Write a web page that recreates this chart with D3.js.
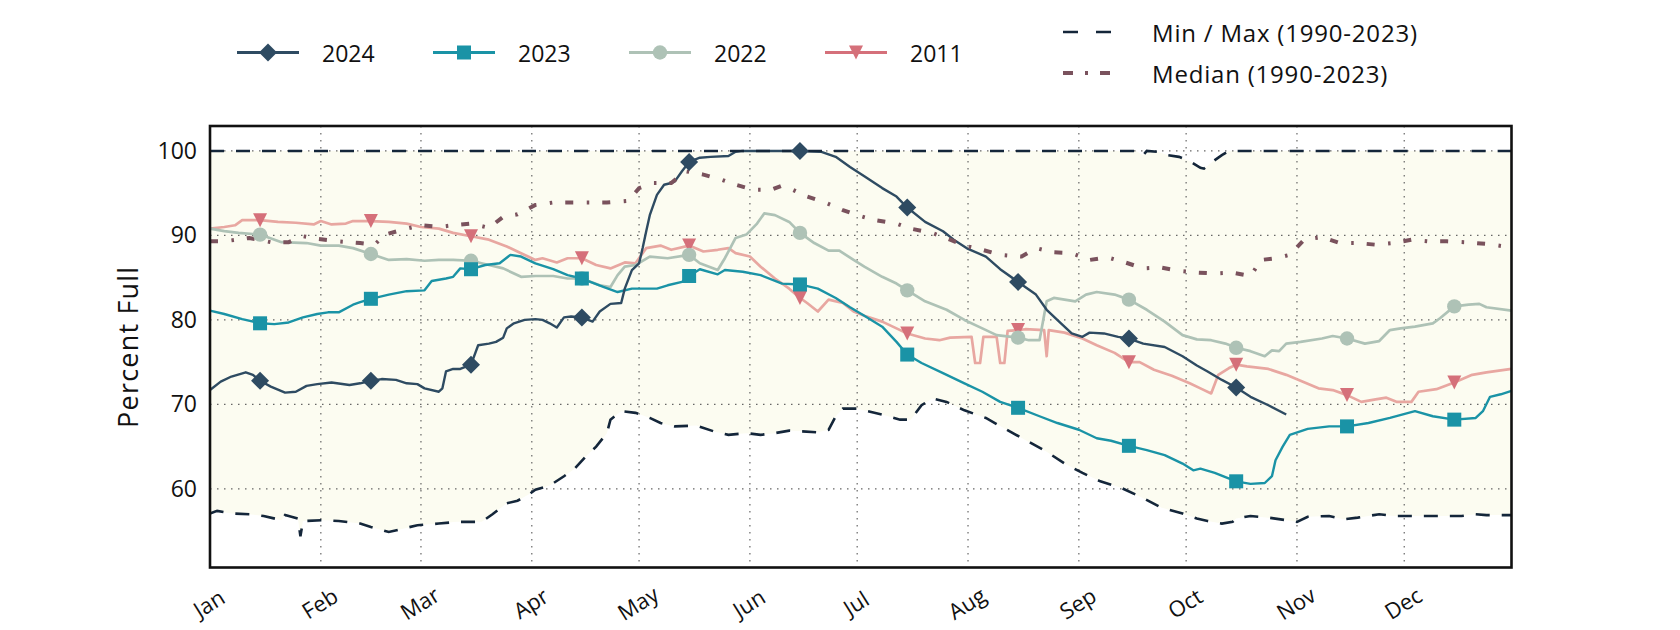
<!DOCTYPE html>
<html>
<head>
<meta charset="utf-8">
<script src="https://cdn.jsdelivr.net/npm/d3@7"></script>
<style>
  body { margin: 0; background: #ffffff; }
  svg { display: block; }
  text { font-family: "Open Sans", Lato, sans-serif; fill: #111; }
</style>
</head>
<body>
<svg id="chart" width="1680" height="630"></svg>
<script>
// ---------- DATA (day of year, 0 = Jan 1; percent full) ----------
const monthLabels = ["Jan","Feb","Mar","Apr","May","Jun","Jul","Aug","Sep","Oct","Nov","Dec"];
const yTicks = [60, 70, 80, 90, 100];
const markerDays = [14, 45, 73, 104, 134, 165, 195, 226, 257, 287, 318, 348];
const seriesNames = ["2024", "2023", "2022", "2011"];
const statNames = ["Min / Max (1990-2023)", "Median (1990-2023)"];

const s2024 = [[0,71.7],[3,72.7],[6,73.3],[10,73.8],[12,73.5],[14,72.8],[17,72.1],[21,71.4],[24,71.5],[27,72.2],[30,72.4],[34,72.6],[39,72.3],[42,72.5],[45,72.8],[48,73.0],[52,72.9],[55,72.5],[58,72.4],[60,71.9],[64,71.5],[65,71.9],[66,73.9],[68,74.2],[70,74.2],[73,74.7],[75,77.0],[78,77.2],[80,77.4],[82,77.9],[83,79.0],[85,79.6],[88,80.0],[91,80.1],[93,80.0],[95,79.6],[97,79.1],[99,80.3],[101,80.4],[104,80.3],[107,79.8],[109,81.0],[112,81.9],[115,82.0],[116,83.7],[118,85.9],[120,86.7],[121,88.5],[122,90.5],[123,92.4],[125,94.8],[127,96.0],[129,96.2],[130,96.4],[132,97.6],[134,98.7],[137,99.2],[140,99.3],[145,99.4],[147,99.9],[149,100],[165,100],[171,99.9],[175,99.3],[179,98.1],[183,97.0],[188,95.6],[192,94.6],[195,93.3],[200,91.6],[205,90.5],[208,89.5],[212,88.4],[217,87.5],[221,86.0],[226,84.5],[231,83.0],[234,81.2],[238,79.6],[241,78.4],[244,78.0],[246,78.5],[250,78.4],[254,78.0],[257,77.8],[261,77.2],[267,76.8],[272,75.7],[276,74.6],[279,73.9],[283,72.9],[287,72.0],[291,70.9],[296,69.9],[301,68.8]];

const s2023 = [[0,81.1],[4,80.7],[9,80.1],[14,79.6],[18,79.5],[22,79.7],[26,80.3],[30,80.7],[33,80.9],[36,80.9],[40,81.8],[42,82.1],[45,82.5],[50,83.0],[55,83.4],[60,83.5],[62,84.6],[66,84.9],[68,85.1],[70,86.1],[73,86.0],[77,86.5],[81,86.7],[84,87.7],[87,87.5],[91,86.7],[96,86.0],[100,85.3],[104,84.9],[110,83.9],[114,83.3],[118,83.7],[125,83.7],[128,84.1],[132,84.5],[134,85.2],[137,86.0],[142,85.4],[144,85.9],[149,85.7],[154,85.3],[160,84.3],[165,84.2],[170,83.7],[175,82.6],[179,81.5],[183,80.5],[188,79.2],[192,77.4],[195,75.9],[199,74.9],[205,73.7],[211,72.5],[216,71.5],[221,70.3],[226,69.6],[232,68.6],[237,67.8],[243,67.0],[248,66.0],[252,65.7],[257,65.1],[262,64.6],[267,64.0],[272,63.0],[275,62.2],[277,62.4],[281,61.9],[287,60.9],[291,60.6],[295,60.7],[297,61.5],[298,63.4],[300,65.0],[302,66.4],[307,67.1],[313,67.4],[318,67.4],[324,67.8],[330,68.4],[337,69.2],[342,68.6],[348,68.2],[354,68.4],[356,69.2],[358,70.9],[361,71.2],[364,71.6]];

const s2022 = [[0,90.8],[4,90.5],[8,90.3],[14,90.1],[20,89.2],[27,89.1],[31,88.8],[36,88.8],[40,88.5],[45,87.8],[50,87.1],[55,87.2],[60,87.0],[64,87.1],[68,87.1],[73,87.0],[78,86.5],[82,86.1],[87,85.1],[91,85.2],[96,85.2],[100,84.9],[104,84.9],[109,84.1],[112,83.9],[114,85.3],[116,86.3],[119,86.5],[123,87.5],[128,87.3],[134,87.7],[137,86.7],[142,85.9],[144,87.3],[147,89.7],[150,90.1],[153,91.4],[155,92.6],[158,92.4],[162,91.6],[165,90.3],[169,89.1],[173,88.2],[176,88.2],[180,87.1],[183,86.3],[188,85.1],[192,84.3],[195,83.5],[200,82.2],[206,81.2],[211,80.0],[216,79.0],[220,78.2],[226,77.9],[229,77.6],[232,77.6],[234,82.2],[236,82.6],[242,82.2],[245,83.0],[248,83.3],[253,83.0],[257,82.4],[262,81.2],[267,79.8],[272,78.2],[276,77.7],[280,77.6],[284,77.2],[287,76.7],[291,76.3],[295,75.7],[297,76.4],[299,76.3],[301,77.2],[305,77.4],[311,77.8],[314,78.1],[318,77.8],[323,77.2],[327,77.5],[330,78.8],[333,79.0],[337,79.2],[342,79.6],[344,80.2],[348,81.6],[352,81.8],[355,81.9],[357,81.5],[364,81.1]];

const s2011 = [[0,90.8],[4,91.0],[7,91.2],[9,91.8],[14,91.8],[19,91.6],[24,91.5],[29,91.3],[31,91.7],[34,91.3],[38,91.4],[40,91.7],[45,91.7],[50,91.6],[55,91.4],[59,91.0],[64,90.8],[68,90.3],[73,89.9],[78,89.5],[83,88.7],[87,87.9],[91,87.1],[93,87.3],[97,86.8],[100,87.3],[104,87.3],[108,86.5],[112,86.1],[116,86.8],[119,86.7],[122,88.5],[126,88.8],[129,88.3],[134,88.8],[138,88.1],[142,88.3],[145,88.5],[147,87.9],[151,87.5],[154,86.3],[158,84.9],[162,83.7],[165,82.6],[167,82.0],[170,81.0],[173,82.4],[177,82.0],[180,81.0],[183,80.5],[188,79.8],[192,79.0],[195,78.4],[200,77.8],[204,77.6],[207,77.9],[213,78.0],[214,74.9],[215.4,74.9],[216.3,78.0],[220,78.0],[221,74.9],[222.2,74.9],[223.1,78.7],[226,78.8],[228,78.9],[233.3,78.8],[234,75.7],[234.6,78.8],[239,78.5],[244,77.8],[248,77.0],[253,76.1],[257,75.0],[260,75.0],[264,74.1],[269,73.4],[274,72.5],[277,71.9],[280,71.3],[282,73.5],[285,74.3],[287,74.7],[290,74.5],[296,74.2],[301,73.5],[305,72.8],[310,71.9],[314,71.7],[318,71.1],[322,70.3],[326,70.6],[329,70.8],[332,70.3],[336,70.3],[338,71.5],[343,71.8],[348,72.6],[353,73.5],[357,73.8],[364,74.2]];

const sMedian = [[0,89.3],[4,89.3],[11,89.7],[17,89.2],[22,89.2],[26,89.9],[30,89.6],[36,89.3],[42,89.1],[46,88.9],[49,90.1],[54,90.7],[59,91.2],[64,91.0],[68,91.2],[73,91.4],[78,90.9],[82,92.2],[86,92.5],[91,93.6],[96,93.9],[101,93.9],[106,93.9],[111,93.9],[117,94.1],[120,95.6],[124,96.2],[129,96.2],[133,97.6],[138,97.2],[143,96.6],[147,96.0],[152,95.4],[157,95.4],[160,95.9],[163,95.4],[167,94.6],[172,93.9],[177,93.0],[181,92.4],[186,91.8],[192,91.4],[196,90.8],[202,90.3],[207,89.5],[211,88.8],[216,88.3],[221,87.7],[227,87.5],[231,88.5],[236,88.0],[241,87.9],[246,87.1],[251,87.4],[256,86.8],[261,86.1],[266,86.2],[271,85.8],[276,85.6],[281,85.5],[286,85.6],[291,85.2],[294,87.1],[298,87.3],[302,87.7],[306,89.5],[311,89.8],[316,89.1],[321,89.1],[326,88.9],[331,89.1],[336,89.5],[341,89.3],[346,89.3],[351,89.2],[357,89.0],[362,88.7],[364,88.6]];

const sMax = [[0,100],[259,100],[261,99.5],[262,100],[265,99.9],[268,99.5],[271,99.3],[274,98.8],[277,98.0],[278,97.9],[280,98.6],[283,99.5],[285,100],[364,100]];

const sMin = [[0,57.1],[2,57.4],[6,57.1],[11,57.0],[15,56.8],[20,56.3],[21,56.9],[24.6,56.5],[25.3,54.4],[26,56.2],[32,56.3],[36,56.2],[42,55.9],[45,55.5],[50,54.9],[54,55.3],[58,55.7],[64,55.9],[69,56.1],[73,56.1],[76,56.1],[79,57.0],[83,58.3],[86,58.6],[89,59.3],[91,59.9],[95,60.4],[99,61.5],[102,62.4],[105,63.8],[108,65.0],[111,66.6],[112,68.2],[115,69.2],[119,69.0],[123,68.4],[126,67.8],[130,67.4],[136,67.5],[141,66.8],[145,66.4],[150,66.6],[154,66.4],[158,66.6],[162,66.9],[170,66.7],[173,67.0],[175,68.6],[177,69.5],[181,69.5],[184,69.2],[188,68.8],[193,68.2],[196,68.2],[199,69.9],[202,70.7],[206,70.3],[211,69.3],[217,68.4],[222,67.2],[228,65.8],[234,64.4],[239,63.0],[244,61.9],[249,60.9],[255,60.1],[261,58.9],[266,57.8],[272,57.1],[276,56.5],[279,56.2],[283,55.9],[286,56.1],[287,56.5],[291,56.8],[296,56.6],[301,56.3],[304,56.1],[307,56.7],[313,56.8],[317,56.4],[321,56.6],[327,57.0],[331,56.8],[336,56.8],[343,56.8],[350,56.8],[354,57.0],[357,56.9],[364,56.9]];

// ---------- LAYOUT / STYLE ----------
const W = 1680, H = 630;
const M = { left: 210, top: 126, right: 168.5, bottom: 62.5 };
const iw = W - M.left - M.right, ih = H - M.top - M.bottom;

const colors = { "2024": "#2e4b62", "2023": "#1a93a6", "2022": "#aec2b6", "2011": "#e8a7a1" };
const markerColors = { "2024": "#2e4b62", "2023": "#1a93a6", "2022": "#aec2b6", "2011": "#d5707a" };
const lineWidths = { "2024": 2.4, "2023": 2.4, "2022": 2.7, "2011": 2.7 };
const shapes = { "2024": "diamond", "2023": "square", "2022": "circle", "2011": "triangle" };
const seriesData = { "2024": s2024, "2023": s2023, "2022": s2022, "2011": s2011 };
const statColor = "#14263a", medianColor = "#7a525d";

const toDate = d => new Date(2023, 0, 1 + Math.floor(d), (d % 1) * 24);

const x = d3.scaleTime().domain([new Date(2023, 0, 1), new Date(2023, 11, 31)]).range([0, iw]);
const y = d3.scaleLinear().domain([50.7, 102.95]).range([ih, 0]);

const svg = d3.select("#chart");
const g = svg.append("g").attr("transform", `translate(${M.left},${M.top})`);

const line = d3.line().x(p => x(toDate(p[0]))).y(p => y(p[1]));

// band between min and max
const bandPts = sMax.concat(sMin.slice().reverse());
g.append("path").attr("d", line(bandPts) + "Z").attr("fill", "#fcfcf1").attr("stroke", "none");

// grid
const monthDates = d3.timeMonth.range(new Date(2023, 0, 1), new Date(2023, 11, 31));
g.append("g").selectAll("line").data(monthDates.slice(1)).join("line")
  .attr("x1", d => x(d)).attr("x2", d => x(d)).attr("y1", 0).attr("y2", ih)
  .attr("stroke", "#666").attr("stroke-width", 1.2).attr("stroke-dasharray", "1.5,5.5");
g.append("g").selectAll("line").data(yTicks).join("line")
  .attr("x1", 0).attr("x2", iw).attr("y1", d => y(d)).attr("y2", d => y(d))
  .attr("stroke", "#666").attr("stroke-width", 1.2).attr("stroke-dasharray", "1.5,5.5");

// series lines (oldest first)
const order = ["2011", "2022", "2023", "2024"];
order.forEach(k => {
  g.append("path").attr("d", line(seriesData[k])).attr("fill", "none")
    .attr("stroke", colors[k]).attr("stroke-width", lineWidths[k]).attr("stroke-linejoin", "round");
});

// stats
g.append("path").attr("d", line(sMax)).attr("fill", "none").attr("stroke", statColor)
  .attr("stroke-width", 2.6).attr("stroke-dasharray", "14,12");
g.append("path").attr("d", line(sMin)).attr("fill", "none").attr("stroke", statColor)
  .attr("stroke-width", 2.6).attr("stroke-dasharray", "14,12");
g.append("path").attr("d", line(sMedian)).attr("fill", "none").attr("stroke", medianColor)
  .attr("stroke-width", 4).attr("stroke-dasharray", "8,13.5,2.5,13");

// markers
function drawMarker(sel, shape, cx, cy, col) {
  if (shape === "diamond") {
    const r = 9;
    sel.append("path").attr("d", `M${cx},${cy - r}L${cx + r},${cy}L${cx},${cy + r}L${cx - r},${cy}Z`).attr("fill", col);
  } else if (shape === "square") {
    const s = 14;
    sel.append("rect").attr("x", cx - s / 2).attr("y", cy - s / 2).attr("width", s).attr("height", s).attr("fill", col);
  } else if (shape === "circle") {
    sel.append("circle").attr("cx", cx).attr("cy", cy).attr("r", 7.2).attr("fill", col);
  } else {
    const h = 7;
    sel.append("path").attr("d", `M${cx - h},${cy - h}L${cx + h},${cy - h}L${cx},${cy + h}Z`).attr("fill", col);
  }
}
const mk = g.append("g");
order.forEach(k => {
  seriesData[k].filter(p => markerDays.includes(p[0])).forEach(p => {
    drawMarker(mk, shapes[k], x(toDate(p[0])), y(p[1]), markerColors[k]);
  });
});

// frame
g.append("rect").attr("x", 0).attr("y", 0).attr("width", iw).attr("height", ih)
  .attr("fill", "none").attr("stroke", "#111").attr("stroke-width", 2.6);

// y axis labels
const yAxis = d3.axisLeft(y).tickValues(yTicks).tickSize(0).tickPadding(13);
const ya = g.append("g").call(yAxis);
ya.select(".domain").remove();
ya.selectAll("text").attr("font-size", 23).style("font-family", "'Open Sans', sans-serif").attr("fill", "#111");

// x axis labels
const xAxis = d3.axisBottom(x).tickValues(monthDates).tickSize(0).tickFormat((d, i) => monthLabels[i]);
const xa = g.append("g").attr("transform", `translate(0,${ih})`).call(xAxis);
xa.select(".domain").remove();
xa.selectAll("text")
  .attr("font-size", 22).style("font-family", "'Open Sans', sans-serif").attr("fill", "#111")
  .attr("y", 0).attr("dy", null)
  .attr("text-anchor", "middle").attr("dominant-baseline", "central")
  .attr("transform", "translate(-2,35) rotate(-32)");

// y label
svg.append("text").attr("transform", `translate(127,${M.top + ih / 2}) rotate(-90)`)
  .attr("text-anchor", "middle").attr("dominant-baseline", "central")
  .attr("font-size", 27).attr("letter-spacing", 1.2).text("Percent Full");

// legend (series)
const legY = 52.5;
const legX = [237, 433, 629, 825];
seriesNames.forEach((k, i) => {
  const lg = svg.append("g");
  lg.append("line").attr("x1", legX[i]).attr("x2", legX[i] + 62).attr("y1", legY).attr("y2", legY)
    .attr("stroke", k === "2011" ? markerColors[k] : colors[k]).attr("stroke-width", 3);
  drawMarker(lg, shapes[k], legX[i] + 31, legY, markerColors[k]);
  lg.append("text").attr("x", legX[i] + 85).attr("y", legY).attr("dominant-baseline", "central")
    .attr("font-size", 23).text(k);
});

// legend (stats)
const statY = [32, 73];
svg.append("line").attr("x1", 1063).attr("x2", 1112).attr("y1", statY[0]).attr("y2", statY[0])
  .attr("stroke", statColor).attr("stroke-width", 2.6).attr("stroke-dasharray", "15,18");
svg.append("line").attr("x1", 1063).attr("x2", 1112).attr("y1", statY[1]).attr("y2", statY[1])
  .attr("stroke", medianColor).attr("stroke-width", 4).attr("stroke-dasharray", "10,12,3,12");
statNames.forEach((t, i) => {
  svg.append("text").attr("x", 1152).attr("y", statY[i]).attr("dominant-baseline", "central")
    .attr("font-size", 24).attr("letter-spacing", 0.8).text(t);
});
</script>
</body>
</html>
